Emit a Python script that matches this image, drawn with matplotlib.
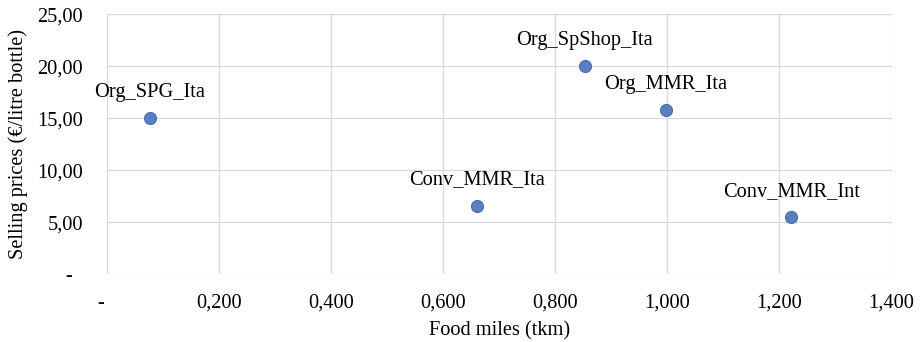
import matplotlib
matplotlib.use("Agg")
import matplotlib.pyplot as plt
from matplotlib.ticker import FuncFormatter

plt.rcParams['font.family'] = ['Liberation Serif', 'DejaVu Serif']

labels = ["Org_SPG_Ita", "Conv_MMR_Ita", "Org_SpShop_Ita", "Org_MMR_Ita", "Conv_MMR_Int"]
food_miles = [0.077, 0.660, 0.853, 0.997, 1.221]
prices = [15.0, 6.6, 20.0, 15.8, 5.5]

x_ticks = [0, 0.2, 0.4, 0.6, 0.8, 1.0, 1.2, 1.4]
y_ticks = [0, 5, 10, 15, 20, 25]

FS = 14.7

fig = plt.figure(figsize=(9.23, 3.42), dpi=100)
ax = fig.add_axes([0.1156, 0.198, 0.966 - 0.1156, 0.958 - 0.198])

ax.scatter(food_miles, prices, s=75, color='#5A7EC0', edgecolors='#4A6DAE', linewidths=0.8, zorder=3)
for lab, x, y in zip(labels, food_miles, prices):
    ax.annotate(lab, (x, y), xytext=(0, 18.5), textcoords='offset points',
                ha='center', va='center', fontsize=FS, color='#000000')

ax.set_xlim(0, 1.4)
ax.set_ylim(0, 25)
ax.set_xticks(x_ticks)
ax.set_yticks(y_ticks)

def xfmt(v, pos):
    if abs(v) < 1e-9:
        return "-  "
    return f"{v:.3f}".replace(".", ",")

def yfmt(v, pos):
    if abs(v) < 1e-9:
        return "-  "
    return f"{v:.2f}".replace(".", ",")

ax.xaxis.set_major_formatter(FuncFormatter(xfmt))
ax.yaxis.set_major_formatter(FuncFormatter(yfmt))
ax.tick_params(axis='both', length=0, labelsize=FS, colors='#000000')
ax.tick_params(axis='x', pad=14)
ax.tick_params(axis='y', pad=17)

ax.grid(True, color='#D9D9D9', linewidth=0.9)
ax.set_axisbelow(True)
for s in ax.spines.values():
    s.set_visible(False)

ax.set_xlabel("Food miles (tkm)", fontsize=FS, labelpad=6)
ax.set_ylabel("Selling prices (€/litre bottle)", fontsize=FS, labelpad=7)

fig.savefig("out.png", dpi=100)
